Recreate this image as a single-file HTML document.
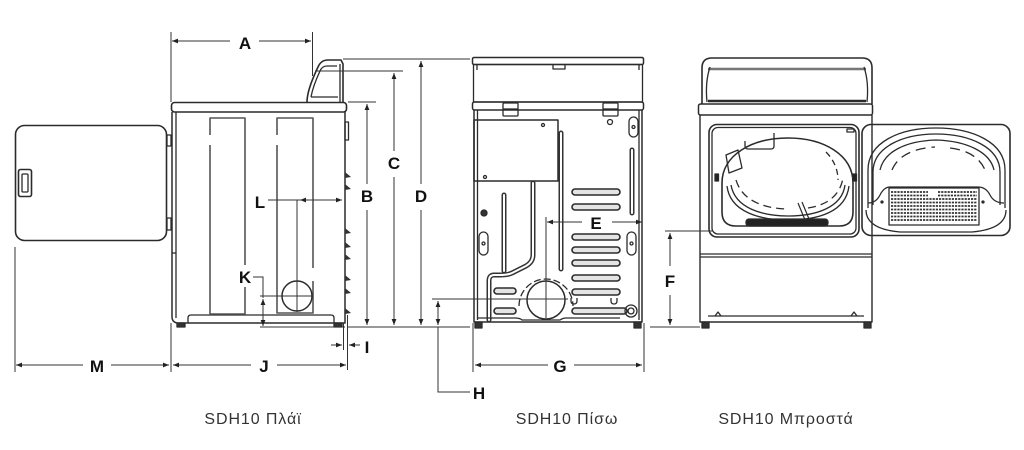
<!DOCTYPE html>
<html><head><meta charset="utf-8"><style>
html,body{margin:0;padding:0;background:#fff;}
svg{display:block;}
.lab{font-family:"Liberation Sans",Arial,sans-serif;font-weight:bold;font-size:17px;fill:#111;text-anchor:middle;}
.cap{font-family:"Liberation Sans",Arial,sans-serif;font-size:16px;letter-spacing:0.9px;fill:#333;text-anchor:middle;}
</style></head><body>
<svg width="1024" height="450" viewBox="0 0 1024 450" xmlns="http://www.w3.org/2000/svg">
<defs>
<marker id="ar" viewBox="0 0 10 10" refX="10" refY="5" markerWidth="7" markerHeight="6" markerUnits="userSpaceOnUse" orient="auto-start-reverse"><path d="M0,1L10,5L0,9Z" fill="#222"/></marker>
</defs>
<rect width="1024" height="450" fill="#fff"/>

<!-- ============ SIDE VIEW ============ -->
<g fill="none" stroke="#2b2b2b" stroke-width="1.3" stroke-linejoin="round">
  <rect x="15.5" y="125.5" width="151" height="115" rx="9" stroke-width="1.6"/>
  <rect x="18.5" y="169.5" width="13" height="27" rx="2" stroke-width="1.6"/>
  <rect x="22" y="174" width="6" height="18" rx="1"/>
  <rect x="167" y="135" width="4" height="11"/>
  <rect x="167" y="218" width="4" height="12"/>
  <rect x="171.5" y="102.5" width="175" height="9.5" rx="3" stroke-width="1.6"/>
  <path d="M307,102 Q307,90 318,67 Q321,60 328,60 H341 L343,64 V102" stroke-width="1.6"/>
  <path d="M311,97 Q313,86 320,71 Q322,66 327,66 H337"/>
  <path d="M311,97 H338"/>
  <line x1="340" y1="64" x2="340" y2="102"/>
  <path d="M172,112 V317 Q172,322 177,323 H345 V112" stroke-width="1.5"/>
  <line x1="176" y1="112" x2="176" y2="318"/>
  <line x1="172" y1="253" x2="176" y2="253"/>
  <rect x="345" y="122" width="3.5" height="18"/>
  <path d="M188,323 V318 Q188,315 191,315 H331 Q334,315 334,318 V323"/>
  <rect x="177" y="323" width="8" height="4" fill="#333"/>
  <rect x="334" y="323" width="8" height="4" fill="#333"/>
  <g stroke="#555" stroke-width="1.6">
    <path d="M210,135 V118 H245 V265 M245,287 V314 H210 V145"/>
    <path d="M277,135 V118 H313 V268 M313,281 V313 H277 V145"/>
  </g>
  <circle cx="297" cy="296" r="15" fill="#fff" stroke-width="1.5"/>
  <g fill="#333" stroke="none">
    <path d="M345,172 L351,177 L345,178Z"/>
    <path d="M345,184 L351,189 L345,190Z"/>
    <path d="M345,228 L351,233 L345,234Z"/>
    <path d="M345,242 L351,247 L345,248Z"/>
    <path d="M345,254 L351,259 L345,260Z"/>
    <path d="M345,275 L351,280 L345,281Z"/>
    <path d="M345,288 L351,293 L345,294Z"/>
    <path d="M345,308 L351,313 L345,314Z"/>
  </g>
</g>

<g fill="none" stroke="#333" stroke-width="1">
  <line x1="171" y1="32" x2="171" y2="102"/>
  <line x1="312.5" y1="32" x2="312.5" y2="76"/>
  <line x1="172" y1="41" x2="230" y2="41" marker-start="url(#ar)"/>
  <line x1="259" y1="41" x2="311" y2="41" marker-end="url(#ar)"/>

  <line x1="15" y1="247" x2="15" y2="372"/>
  <line x1="171" y1="323" x2="171" y2="372"/>
  <line x1="16" y1="365" x2="83" y2="365" marker-start="url(#ar)"/>
  <line x1="111" y1="365" x2="169" y2="365" marker-end="url(#ar)"/>
  <line x1="173" y1="365" x2="251" y2="365" marker-start="url(#ar)"/>
  <line x1="277" y1="365" x2="346" y2="365" marker-end="url(#ar)"/>
  <line x1="347.5" y1="315" x2="347.5" y2="370"/>
  <line x1="343.5" y1="323" x2="343.5" y2="350"/>
  <line x1="331" y1="345" x2="342" y2="345" marker-end="url(#ar)"/>
  <line x1="360" y1="345" x2="349" y2="345" marker-end="url(#ar)"/>

  <line x1="343" y1="59" x2="470" y2="59"/>
  <line x1="315" y1="71" x2="403" y2="71"/>
  <line x1="348" y1="102" x2="376" y2="102"/>
  <line x1="347" y1="327" x2="470" y2="327"/>
  <line x1="367" y1="104" x2="367" y2="184" marker-start="url(#ar)"/>
  <line x1="367" y1="210" x2="367" y2="325" marker-end="url(#ar)"/>
  <line x1="394" y1="73" x2="394" y2="151" marker-start="url(#ar)"/>
  <line x1="394" y1="177" x2="394" y2="325" marker-end="url(#ar)"/>
  <line x1="421" y1="61" x2="421" y2="184" marker-start="url(#ar)"/>
  <line x1="421" y1="210" x2="421" y2="325" marker-end="url(#ar)"/>

  <line x1="268" y1="200" x2="300" y2="200"/>
  <line x1="300" y1="200" x2="342" y2="200" marker-start="url(#ar)" marker-end="url(#ar)"/>
  <line x1="297" y1="200" x2="297" y2="312"/>
  <path d="M253,277 H263 V298"/>
  <line x1="263" y1="299" x2="263" y2="326" marker-start="url(#ar)" marker-end="url(#ar)"/>
  <line x1="260" y1="296" x2="312" y2="296"/>
  <line x1="260" y1="327" x2="345" y2="327"/>
</g>

<!-- ============ REAR VIEW ============ -->
<g fill="none" stroke="#2b2b2b" stroke-width="1.3" stroke-linejoin="round">
  <rect x="472.5" y="57.5" width="171" height="7" rx="1.5" stroke-width="1.5"/>
  <rect x="473.5" y="64.5" width="169" height="37.5"/>
  <line x1="477" y1="65" x2="477" y2="70"/>
  <path d="M553,65 V69 H565 V65"/>
  <line x1="639" y1="65" x2="639" y2="70"/>
  <rect x="472.5" y="102" width="171" height="8" rx="2" stroke-width="1.5"/>
  <path d="M474,110 V322 H642 V110" stroke-width="1.5"/>
  <line x1="477.5" y1="110" x2="477.5" y2="320"/>
  <line x1="639" y1="110" x2="639" y2="320"/>
  <rect x="503" y="103" width="15" height="13" rx="1"/>
  <line x1="503" y1="109" x2="518" y2="109"/>
  <rect x="603" y="103" width="15" height="13" rx="1"/>
  <line x1="603" y1="109" x2="618" y2="109"/>
  <circle cx="610" cy="122" r="2.5"/>
  <rect x="474" y="120" width="84" height="61" stroke-width="1.5"/>
  <circle cx="543" cy="125" r="1.5"/>
  <circle cx="485" cy="177" r="1.5"/>
  <g stroke="#333" stroke-width="5" stroke-linecap="round">
    <path d="M561,133 V269"/>
    <path d="M632,150 V213"/>
    <path d="M504,195 V271"/>
    <path d="M533,183 V255 Q533,262 526,266 L512,273 Q508,275 500,275 H494 Q489,275 489,281 V320"/>
  </g>
  <g stroke="#fff" stroke-width="2" stroke-linecap="round">
    <path d="M561,133 V269"/>
    <path d="M632,150 V213"/>
    <path d="M504,195 V271"/>
    <path d="M533,183 V255 Q533,262 526,266 L512,273 Q508,275 500,275 H494 Q489,275 489,281 V320"/>
  </g>
  <path d="M519,306 A27,27 0 1 1 573,306" stroke-dasharray="7,3"/>
  <circle cx="546" cy="300" r="19" fill="#fff" stroke-width="1.5"/>
  <g stroke-width="1.6" fill="#e4e4e4">
    <rect x="572" y="189" width="48" height="6" rx="3"/>
    <rect x="572" y="204" width="48" height="6" rx="3"/>
    <rect x="572" y="234" width="48" height="6" rx="3"/>
    <rect x="572" y="247" width="48" height="6" rx="3"/>
    <rect x="572" y="260" width="48" height="6" rx="3"/>
    <rect x="572" y="275" width="48" height="6" rx="3"/>
    <rect x="572" y="289" width="48" height="6" rx="3"/>
    <rect x="572" y="308" width="55" height="6" rx="3"/>
    <rect x="494" y="288" width="22" height="6" rx="3"/>
    <rect x="494" y="308" width="22" height="6" rx="3"/>
  </g>
  <circle cx="484" cy="213" r="3" fill="#333"/>
  <rect x="479" y="232" width="9" height="23" rx="4.5"/>
  <circle cx="483.5" cy="243.5" r="1.5"/>
  <rect x="627" y="232" width="9" height="23" rx="4.5"/>
  <circle cx="631.5" cy="243.5" r="1.5"/>
  <rect x="629" y="117" width="9" height="20" rx="4.5"/>
  <circle cx="633.5" cy="127" r="1.5"/>
  <path d="M571,298 V301 Q571,304 574,304 Q577,304 577,301 V298"/>
  <path d="M611,298 V301 Q611,304 614,304 Q617,304 617,301 V298"/>
  <circle cx="631" cy="311" r="6"/>
  <circle cx="631" cy="311" r="3"/>
  <path d="M478,318 H515 Q520,318 522,320 H560 Q563,318 566,318 H620"/>
  <rect x="475" y="322" width="7" height="6" fill="#333"/>
  <rect x="634" y="322" width="7" height="6" fill="#333"/>
</g>

<g fill="none" stroke="#333" stroke-width="1">
  <line x1="547" y1="222" x2="582" y2="222" marker-start="url(#ar)"/>
  <line x1="612" y1="222" x2="642" y2="222" marker-end="url(#ar)"/>
  <line x1="546" y1="217" x2="546" y2="318"/>
  <line x1="432" y1="299" x2="568" y2="299"/>
  <line x1="473" y1="323" x2="473" y2="372"/>
  <line x1="644" y1="323" x2="644" y2="372"/>
  <line x1="475" y1="365" x2="548" y2="365" marker-start="url(#ar)"/>
  <line x1="574" y1="365" x2="642" y2="365" marker-end="url(#ar)"/>
  <line x1="438" y1="301" x2="438" y2="325" marker-start="url(#ar)" marker-end="url(#ar)"/>
  <path d="M438,327 V392 H470"/>
</g>

<!-- ============ FRONT VIEW ============ -->
<g fill="none" stroke="#2b2b2b" stroke-width="1.3" stroke-linejoin="round">
  <path d="M702,104 V68 Q702,58 712,58 H862 Q872,58 872,68 V104" stroke-width="1.6"/>
  <line x1="708" y1="69" x2="866" y2="69" stroke="#777" stroke-width="2.5"/>
  <path d="M707,102 Q705,82 710,67"/>
  <path d="M867,102 Q869,82 864,67"/>
  <line x1="708" y1="101" x2="866" y2="101" stroke-width="2.5"/>
  <rect x="698.5" y="104" width="174" height="11" rx="2" stroke-width="1.5"/>
  <path d="M700,115 V322 H872 V115" stroke-width="1.4"/>
  <line x1="700" y1="254" x2="872" y2="254"/>
  <line x1="700" y1="257" x2="872" y2="257"/>
  <line x1="708" y1="316" x2="864" y2="316"/>
  <path d="M715,316 L718,312 L721,316"/>
  <path d="M851,316 L854,312 L857,316"/>
  <rect x="702" y="322" width="7" height="6" fill="#333"/>
  <rect x="864" y="322" width="7" height="6" fill="#333"/>
  <rect x="709" y="124.5" width="150" height="112.5" rx="8" stroke-width="1.6"/>
  <rect x="712" y="127.5" width="144" height="106.5" rx="6"/>
  <path d="M722,212 V183 C722,155 752,138 788,138 C824,138 853,155 853,183 V212 Q853,226 839,226 H736 Q722,226 722,212 Z" stroke-width="1.6"/>
  <path d="M727,186 C730,212 760,220 788,220 C818,220 846,212 849,186"/>
  <path d="M731,185 C735,208 762,216 788,216 C815,216 842,208 845,185"/>
  <path d="M736,180 C742,200 762,208 786,209" stroke-dasharray="8,5"/>
  <path d="M808,208 C828,205 840,195 843,178" stroke-dasharray="8,5"/>
  <path d="M826,152 C834,160 838,170 838,180" stroke-dasharray="6,4"/>
  <path d="M745,141 V146 Q745,149 748,149 H771 Q774,149 774,146 V133"/>
  <path d="M726,155 L738,150 L742,168 L729,173 Z"/>
  <rect x="746" y="219" width="82" height="7" rx="3" fill="#222"/>
  <path d="M798,203 L805,220 M802,202 L809,219" stroke-width="1.2"/>
  <rect x="715" y="174" width="3.5" height="7" fill="#222"/>
  <rect x="853" y="174" width="3.5" height="7" fill="#222"/>
  <rect x="847" y="129" width="7" height="3"/>
  <rect x="862" y="124.5" width="148" height="111" rx="9" stroke-width="1.6"/>
  <path d="M868,208 V170 C868,142 900,128 936,128 C972,128 1005,142 1005,170 V208"/>
  <path d="M873,205 V172 C873,147 903,134 936,134 C969,134 1000,147 1000,172 V205"/>
  <path d="M880,170 C884,152 905,141 936,140 C967,141 990,152 994,170"/>
  <path d="M892,170 C898,155 915,148 935,147" stroke-dasharray="10,6"/>
  <path d="M950,148 C968,150 980,158 985,170" stroke-dasharray="10,6"/>
  <path d="M866,210 Q866,229 900,232 H972 Q1006,229 1006,210"/>
  <path d="M868,203 Q876,203 880,195 Q884,187 890,187 H978 Q986,187 990,195 Q994,203 1004,203"/>
  <rect x="889" y="188" width="90" height="37"/>
  <g stroke="#333" stroke-width="1.7" stroke-dasharray="2.2,1">
    <path d="M891,192 H928 M938,192 H977"/>
    <path d="M891,195.5 H928 M938,195.5 H977"/>
    <path d="M891,199 H977"/>
    <path d="M891,202.5 H977"/>
    <path d="M891,206 H977"/>
    <path d="M891,209.5 H977"/>
    <path d="M891,213 H977"/>
    <path d="M891,216.5 H977"/>
    <path d="M891,220 H977"/>
  </g>
  <circle cx="882" cy="202" r="1" fill="#333"/>
  <circle cx="983" cy="202" r="1" fill="#333"/>
</g>

<g fill="none" stroke="#333" stroke-width="1">
  <line x1="665" y1="231" x2="713" y2="231"/>
  <line x1="670" y1="233" x2="670" y2="266" marker-start="url(#ar)"/>
  <line x1="670" y1="295" x2="670" y2="325" marker-end="url(#ar)"/>
  <line x1="650" y1="327" x2="700" y2="327"/>
</g>

<text class="lab" x="245" y="49">A</text>
<text class="lab" x="367" y="202">B</text>
<text class="lab" x="394" y="169">C</text>
<text class="lab" x="421" y="202">D</text>
<text class="lab" x="596" y="229">E</text>
<text class="lab" x="670" y="287">F</text>
<text class="lab" x="560" y="372">G</text>
<text class="lab" x="479" y="399">H</text>
<text class="lab" x="367" y="353">I</text>
<text class="lab" x="264" y="372">J</text>
<text class="lab" x="245" y="283">K</text>
<text class="lab" x="260" y="208">L</text>
<text class="lab" x="97" y="372">M</text>

<text class="cap" x="253" y="424">SDH10 Πλάϊ</text>
<text class="cap" x="567" y="424">SDH10 Πίσω</text>
<text class="cap" x="786" y="424">SDH10 Μπροστά</text>
</svg>
</body></html>
